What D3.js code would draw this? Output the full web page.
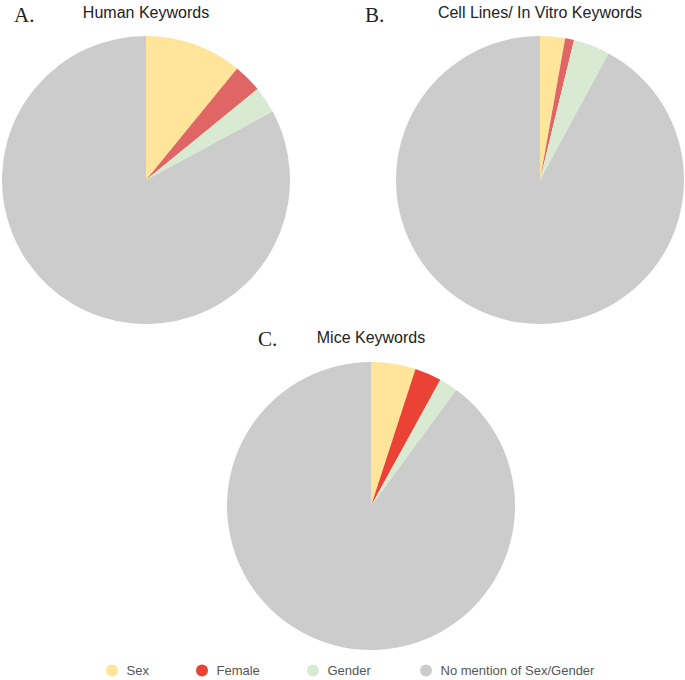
<!DOCTYPE html>
<html>
<head>
<meta charset="utf-8">
<script src="https://cdn.jsdelivr.net/npm/d3@7"></script>
<style>
  body { margin: 0; background: #fff; }
  svg { display: block; }
</style>
</head>
<body>
<svg id="chart" width="685" height="680"></svg>
<script>
// ---- Data ----
const categories = ["Sex", "Female", "Gender", "No mention of Sex/Gender"];
const humanValues = [10.9, 3.2, 3.0, 82.9];
const cellValues = [2.8, 1.0, 4.1, 92.1];
const miceValues = [5.0, 3.0, 2.1, 89.9];
const panelLetters = ["A.", "B.", "C."];
const panelTitles = ["Human Keywords", "Cell Lines/ In Vitro Keywords", "Mice Keywords"];

// ---- Styles ----
const baseColors = ["#ffe599", "#ea4335", "#d9ead3", "#cccccc"];
const softRed = "#e06666";

const svg = d3.select("#chart");
const color = d3.scaleOrdinal().domain(categories).range(baseColors);

const panels = [
  { values: humanValues, cx: 146, cy: 180, letterX: 14, letterY: 22, titleY: 18, red: softRed },
  { values: cellValues, cx: 540, cy: 180, letterX: 365, letterY: 22, titleY: 18, red: softRed },
  { values: miceValues, cx: 371, cy: 506, letterX: 258, letterY: 346, titleY: 343, red: "#ea4335" }
];
const radius = 144;

const pie = d3.pie().sort(null).value(d => d.value);
const arc = d3.arc().innerRadius(0).outerRadius(radius);

panels.forEach((p, i) => {
  const data = categories.map((c, k) => ({ cat: c, value: p.values[k] }));
  const g = svg.append("g").attr("transform", `translate(${p.cx},${p.cy})`);
  g.selectAll("path")
    .data(pie(data))
    .join("path")
    .attr("d", arc)
    .attr("fill", d => d.data.cat === "Female" ? p.red : color(d.data.cat));

  svg.append("text")
    .attr("x", p.letterX)
    .attr("y", p.letterY)
    .attr("font-family", "'Liberation Serif', 'Times New Roman', serif")
    .attr("font-size", 21)
    .attr("fill", "#222")
    .text(panelLetters[i]);

  svg.append("text")
    .attr("x", p.cx)
    .attr("y", p.titleY)
    .attr("text-anchor", "middle")
    .attr("font-family", "'Liberation Sans', Arial, sans-serif")
    .attr("font-size", 16)
    .attr("fill", "#222")
    .text(panelTitles[i]);
});

// ---- Legend ----
const legendX = [112, 202, 313, 426];
const legend = svg.append("g");
categories.forEach((c, k) => {
  legend.append("circle")
    .attr("cx", legendX[k])
    .attr("cy", 670.5)
    .attr("r", 6)
    .attr("fill", color(c));
  legend.append("text")
    .attr("x", legendX[k] + 14.5)
    .attr("y", 675)
    .attr("font-family", "'Liberation Sans', Arial, sans-serif")
    .attr("font-size", 13)
    .attr("fill", "#555")
    .text(c);
});
</script>
</body>
</html>
